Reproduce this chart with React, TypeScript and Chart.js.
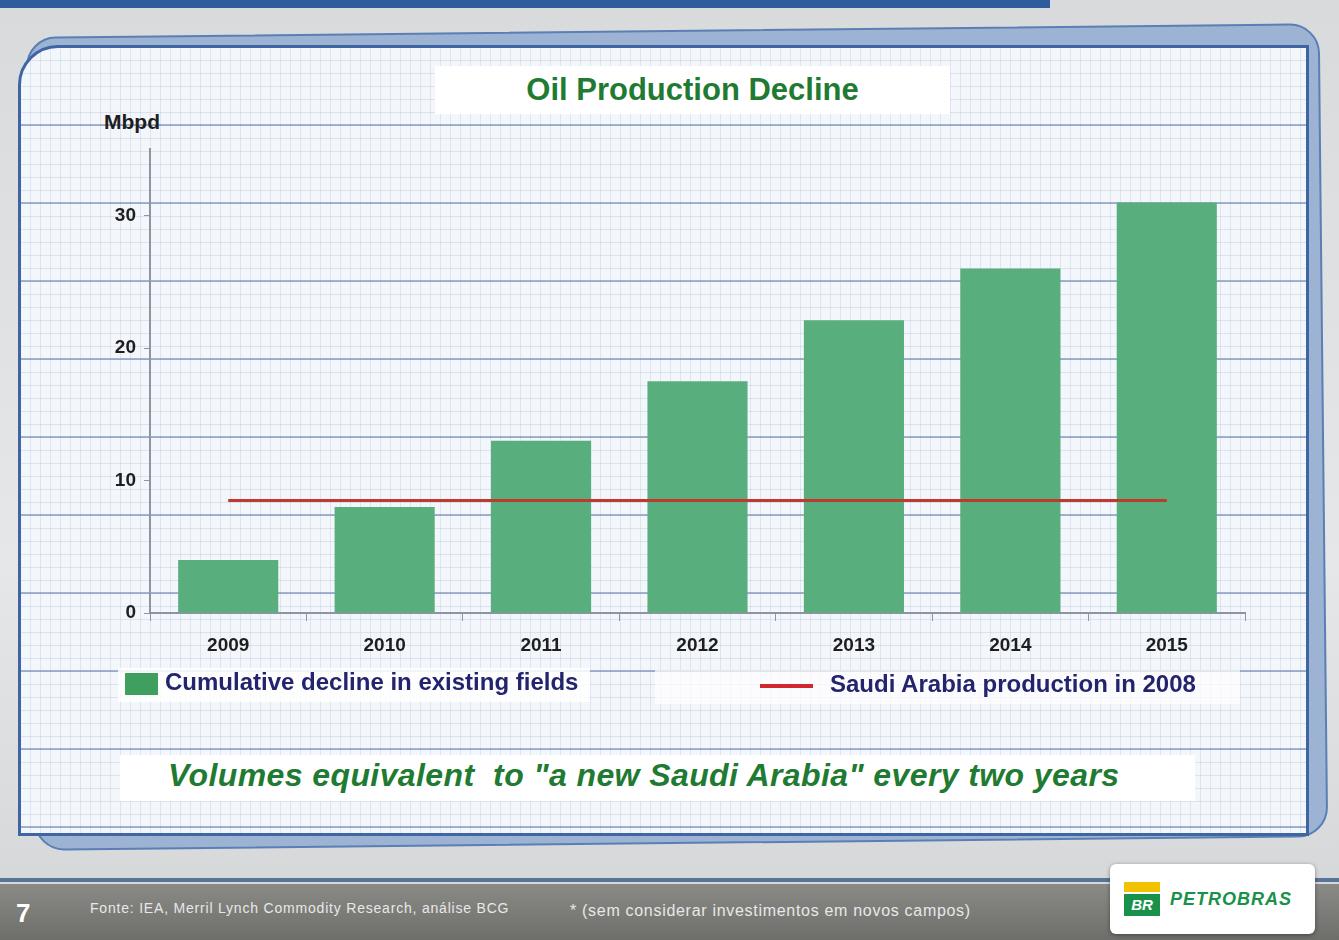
import React, { useEffect, useRef } from "react";
import { Chart, registerables } from "chart.js";

Chart.register(...registerables);

const years = ["2009", "2010", "2011", "2012", "2013", "2014", "2015"];
const cumulativeDecline = [4.0, 8.0, 13.0, 17.5, 22.1, 26.0, 31.0];
const saudiProduction2008 = [8.5, 8.5, 8.5, 8.5, 8.5, 8.5, 8.5];
const yTicks = [0, 10, 20, 30];

const barLabel = "Cumulative decline in existing fields";
const lineLabel = "Saudi Arabia production in 2008";

export default function App() {
  const canvasRef = useRef<HTMLCanvasElement | null>(null);

  useEffect(() => {
    if (!canvasRef.current) return;
    const chart = new Chart(canvasRef.current, {
      type: "bar",
      data: {
        labels: years,
        datasets: [
          {
            type: "line",
            label: lineLabel,
            data: saudiProduction2008,
            borderColor: "#c0392f",
            borderWidth: 3,
            pointRadius: 0,
            fill: false,
            order: 0,
          } as any,
          {
            type: "bar",
            label: barLabel,
            data: cumulativeDecline,
            backgroundColor: "#59ae7e",
            barPercentage: 0.64,
            categoryPercentage: 1,
            order: 1,
          },
        ],
      },
      options: {
        animation: false,
        responsive: false,
        maintainAspectRatio: false,
        layout: { padding: { top: 15, right: 15, left: 0, bottom: 0 } },
        plugins: { legend: { display: false }, tooltip: { enabled: false } },
        scales: {
          x: {
            offset: true,
            grid: {
              offset: true,
              drawOnChartArea: false,
              drawTicks: true,
              tickLength: 8,
              color: "#8c95a3",
            },
            border: { color: "#8c95a3", width: 2 },
            ticks: {
              color: "#1e1e1e",
              padding: 13,
              font: { family: "Liberation Sans, Arial", size: 19, weight: "bold" },
            },
            afterFit: (s: any) => {
              s.height = 57;
            },
          },
          y: {
            min: 0,
            max: 35,
            afterBuildTicks: (s: any) => {
              s.ticks = yTicks.map((v) => ({ value: v }));
            },
            grid: {
              drawOnChartArea: false,
              drawTicks: true,
              tickLength: 6,
              color: "#8c95a3",
            },
            border: { color: "#8c95a3", width: 2 },
            ticks: {
              color: "#1e1e1e",
              padding: 8,
              font: { family: "Liberation Sans, Arial", size: 19, weight: "bold" },
            },
            afterFit: (s: any) => {
              s.width = 55;
            },
          },
        },
      },
    });
    return () => chart.destroy();
  }, []);

  const pattern =
    "repeating-linear-gradient(to bottom, rgba(0,0,0,0) 0px, rgba(0,0,0,0) 76px, rgba(95,125,170,0.55) 76px, rgba(95,125,170,0.55) 78px)," +
    "repeating-linear-gradient(to bottom, rgba(0,0,0,0) 0px, rgba(0,0,0,0) 12px, rgba(150,170,200,0.25) 12px, rgba(150,170,200,0.25) 13px)," +
    "repeating-linear-gradient(to right, rgba(0,0,0,0) 0px, rgba(0,0,0,0) 9px, rgba(150,170,200,0.22) 9px, rgba(150,170,200,0.22) 10px)";

  return (
    <div
      style={{
        position: "fixed",
        left: 0,
        top: 0,
        width: 1339,
        height: 940,
        overflow: "hidden",
        background: "linear-gradient(to bottom, #d9dadc 0%, #e6e7e8 60%, #d4d5d7 100%)",
        fontFamily: "Liberation Sans, Arial, sans-serif",
      }}
    >
      {/* top bar */}
      <div style={{ position: "absolute", left: 0, top: 0, width: 1050, height: 8, background: "#2e5c9c" }} />
      {/* back decorative panel */}
      <div
        style={{
          position: "absolute",
          left: 30,
          top: 30,
          width: 1290,
          height: 810,
          background: "#9db3d3",
          border: "2px solid #5a7fb5",
          borderRadius: 30,
          transform: "rotate(-0.6deg)",
        }}
      />
      {/* main panel */}
      <div
        style={{
          position: "absolute",
          left: 18,
          top: 45,
          width: 1285,
          height: 785,
          background: "#f3f6fa",
          backgroundImage: pattern,
          border: "3px solid #3f66a3",
          borderRadius: "40px 0 0 0",
        }}
      />
      {/* title */}
      <div
        style={{
          position: "absolute",
          left: 435,
          top: 66,
          width: 515,
          height: 48,
          background: "#ffffff",
          color: "#1f7a32",
          fontWeight: "bold",
          fontSize: 31,
          textAlign: "center",
          lineHeight: "48px",
        }}
      >
        Oil Production Decline
      </div>
      {/* y unit */}
      <div
        style={{
          position: "absolute",
          left: 104,
          top: 110,
          color: "#1e1e1e",
          fontWeight: "bold",
          fontSize: 21,
        }}
      >
        Mbpd
      </div>
      <canvas
        ref={canvasRef}
        width={1165}
        height={540}
        style={{ position: "absolute", left: 95, top: 130, width: 1165, height: 540 }}
      />
      {/* legend */}
      <div
        style={{
          position: "absolute",
          left: 118,
          top: 668,
          width: 472,
          height: 34,
          background: "rgba(255,255,255,0.85)",
        }}
      />
      <div style={{ position: "absolute", left: 125, top: 673, width: 33, height: 22, background: "#3f9f5f" }} />
      <div
        style={{
          position: "absolute",
          left: 165,
          top: 668,
          color: "#24246e",
          fontWeight: "bold",
          fontSize: 24,
          whiteSpace: "nowrap",
        }}
      >
        {barLabel}
      </div>
      <div
        style={{
          position: "absolute",
          left: 655,
          top: 670,
          width: 585,
          height: 34,
          background: "rgba(255,255,255,0.7)",
        }}
      />
      <div style={{ position: "absolute", left: 760, top: 684, width: 53, height: 4, background: "#d0282e" }} />
      <div
        style={{
          position: "absolute",
          left: 830,
          top: 670,
          color: "#24246e",
          fontWeight: "bold",
          fontSize: 24,
          whiteSpace: "nowrap",
        }}
      >
        {lineLabel}
      </div>
      {/* bottom message */}
      <div
        style={{
          position: "absolute",
          left: 120,
          top: 755,
          width: 1075,
          height: 46,
          background: "#ffffff",
        }}
      />
      <div
        style={{
          position: "absolute",
          left: 168,
          top: 757,
          color: "#1f7a32",
          fontWeight: "bold",
          fontStyle: "italic",
          fontSize: 32,
          letterSpacing: 0.4,
          whiteSpace: "nowrap",
        }}
      >
        Volumes equivalent&nbsp; to "a new Saudi Arabia" every two years
      </div>
      {/* footer */}
      <div
        style={{
          position: "absolute",
          left: 0,
          top: 878,
          width: 1339,
          height: 4,
          background: "#5a7398",
        }}
      />
      <div
        style={{
          position: "absolute",
          left: 0,
          top: 884,
          width: 1339,
          height: 56,
          background: "linear-gradient(to bottom, #8a8b86 0%, #6e6f6a 100%)",
        }}
      />
      <div
        style={{
          position: "absolute",
          left: 16,
          top: 898,
          color: "#ffffff",
          fontWeight: "bold",
          fontSize: 26,
        }}
      >
        7
      </div>
      <div
        style={{
          position: "absolute",
          left: 90,
          top: 900,
          color: "#e8e8e8",
          fontSize: 14,
          letterSpacing: 0.8,
          whiteSpace: "nowrap",
        }}
      >
        Fonte: IEA, Merril Lynch Commodity Research, análise BCG
      </div>
      <div
        style={{
          position: "absolute",
          left: 570,
          top: 902,
          color: "#e8e8e8",
          fontSize: 16,
          letterSpacing: 0.7,
          whiteSpace: "nowrap",
        }}
      >
        * (sem considerar investimentos em novos campos)
      </div>
      {/* logo */}
      <div
        style={{
          position: "absolute",
          left: 1110,
          top: 864,
          width: 205,
          height: 70,
          background: "#ffffff",
          borderRadius: 6,
          boxShadow: "0 1px 4px rgba(0,0,0,0.4)",
        }}
      />
      <div style={{ position: "absolute", left: 1124, top: 882, width: 36, height: 10, background: "#f2c200" }} />
      <div
        style={{
          position: "absolute",
          left: 1124,
          top: 894,
          width: 36,
          height: 22,
          background: "#18924a",
          color: "#ffffff",
          fontSize: 15,
          fontWeight: "bold",
          fontStyle: "italic",
          textAlign: "center",
          lineHeight: "22px",
        }}
      >
        BR
      </div>
      <div
        style={{
          position: "absolute",
          left: 1170,
          top: 889,
          color: "#18924a",
          fontWeight: "bold",
          fontStyle: "italic",
          fontSize: 18,
          letterSpacing: 1,
        }}
      >
        PETROBRAS
      </div>
    </div>
  );
}
